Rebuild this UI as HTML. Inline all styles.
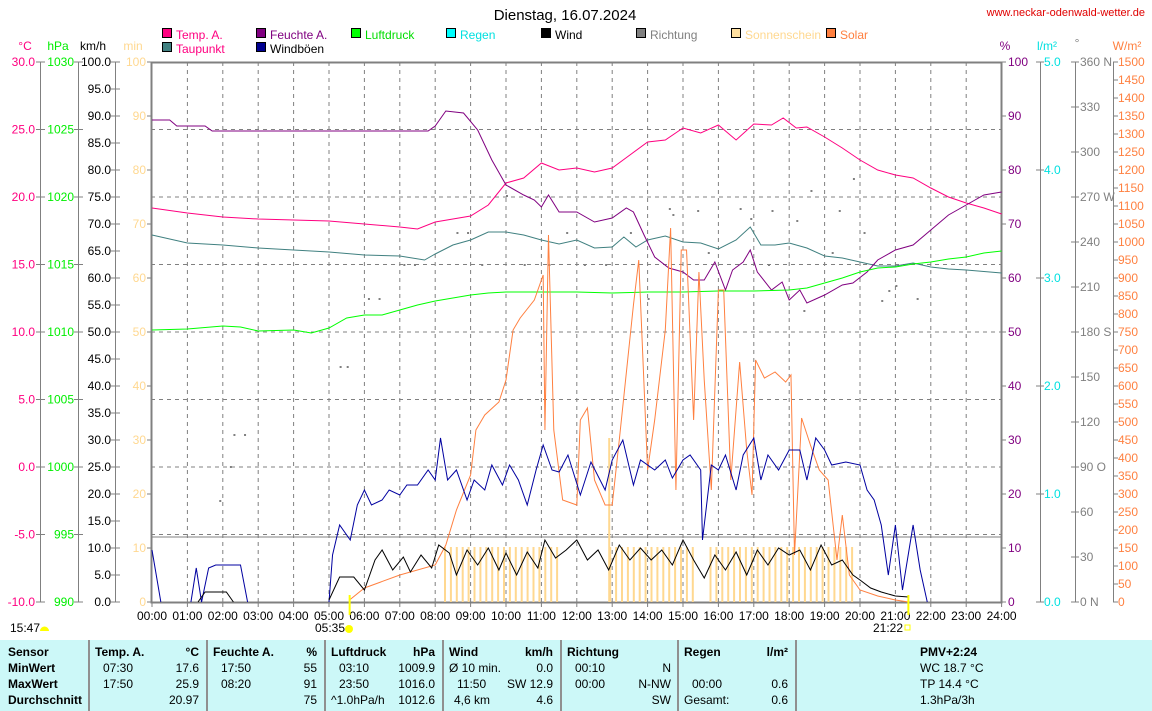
<!DOCTYPE html>
<html><head><meta charset="utf-8"><style>
html,body{margin:0;background:#fff;width:1152px;height:711px;overflow:hidden;font-family:"Liberation Sans",sans-serif}
svg text{font-family:"Liberation Sans",sans-serif;font-size:12px}
#tbl{position:absolute;left:0;top:640px;width:1152px;height:71px;background:#ccf8f8;font-size:12px;overflow:hidden}
#tbl div{position:absolute;white-space:nowrap}
.b{font-weight:bold}
.r{text-align:right}
.sep{position:absolute;top:0;width:2px;height:71px;background:#909090}
</style></head><body>
<svg id="s" width="1152" height="640" style="position:absolute;left:0;top:0"></svg>
<div id="tbl"></div>
<script>
const S=document.getElementById('s');let h='';
const X=t=>152+35.4*t;
function pl(pts,c,w){h+=`<polyline fill="none" stroke="${c}" stroke-width="${w||1}" points="${pts.map(p=>X(p[0])+','+p[1]).join(' ')}"/>`}
function tx(x,y,s,c,a){h+=`<text x="${x}" y="${y}" fill="${c}" text-anchor="${a||'start'}">${s}</text>`}
h+=`<text x="565" y="20" text-anchor="middle" style="font-size:15px">Dienstag, 16.07.2024</text>`;
h+=`<text x="1145" y="16" text-anchor="end" fill="#e00000" style="font-size:11px">www.neckar-odenwald-wetter.de</text>`;
const lg=[[162,38,'#ff0080','Temp. A.','#ff0080'],[162,52,'#408080','Taupunkt','#ff0080'],[256,38,'#800080','Feuchte A.','#800080'],[256,52,'#000090','Windböen','#000'],[351,38,'#00ff00','Luftdruck','#00dd00'],[446,38,'#00ffff','Regen','#00e0e0'],[541,38,'#000','Wind','#000'],[636,38,'#808080','Richtung','#808080'],[731,38,'#ffe0a0','Sonnenschein','#ffd890'],[826,38,'#ff8040','Solar','#ff8040']];
lg.forEach(l=>{h+=`<rect x="${l[0]+0.5}" y="${l[1]-9.5}" width="9" height="9" fill="${l[2]}" stroke="#000"/>`;tx(l[0]+14,l[1]+1,l[3],l[4])});
for(let i=1;i<24;i++){const x=X(i);h+=`<line x1="${x}" y1="62" x2="${x}" y2="602" stroke="#808080" stroke-dasharray="4,4"/>`}
for(let i=1;i<8;i++){const y=62+67.5*i;h+=`<line x1="151" y1="${y}" x2="1001" y2="${y}" stroke="#808080" stroke-dasharray="4,4"/>`}
h+=`<line x1="151" y1="537" x2="1001" y2="537" stroke="#808080"/>`;
h+=`<rect x="151.5" y="62.5" width="850" height="540" fill="none" stroke="#808080" stroke-width="2"/>`;
tx(25,50,'°C','#ff0080','middle');tx(58,50,'hPa','#00ee00','middle');tx(93,50,'km/h','#000','middle');tx(133,50,'min','#ffd890','middle');
h+=`<line x1="40.5" y1="62" x2="40.5" y2="602" stroke="#808080"/><line x1="78.5" y1="62" x2="78.5" y2="602" stroke="#808080"/><line x1="115.5" y1="62" x2="115.5" y2="602" stroke="#808080"/>`;
for(let i=0;i<=8;i++){const y=62+67.5*i;tx(35,y+4,(30-5*i).toFixed(1),'#ff0080','end');h+=`<line x1="36" y1="${y}" x2="45" y2="${y}" stroke="#808080"/>`;tx(74,y+4,1030-5*i,'#00ee00','end');h+=`<line x1="74" y1="${y}" x2="83" y2="${y}" stroke="#808080"/>`}
for(let i=0;i<=20;i++){const y=62+27*i;tx(111,y+4,(100-5*i).toFixed(1),'#000','end');h+=`<line x1="111" y1="${y}" x2="120" y2="${y}" stroke="#808080"/>`}
for(let i=0;i<=10;i++){const y=62+54*i;tx(146,y+4,100-10*i,'#ffd890','end');h+=`<line x1="147" y1="${y}" x2="151" y2="${y}" stroke="#808080"/>`}
tx(1005,50,'%','#800080','middle');tx(1047,50,'l/m²','#00e0e0','middle');tx(1077,47,'°','#808080','middle');tx(1127,50,'W/m²','#ff8040','middle');
h+=`<line x1="1040.5" y1="62" x2="1040.5" y2="602" stroke="#808080"/><line x1="1075.5" y1="62" x2="1075.5" y2="602" stroke="#808080"/><line x1="1113.5" y1="62" x2="1113.5" y2="602" stroke="#808080"/>`;
for(let i=0;i<=10;i++){const y=62+54*i;tx(1008,y+4,100-10*i,'#800080');h+=`<line x1="1001" y1="${y}" x2="1006" y2="${y}" stroke="#808080"/>`}
for(let i=0;i<=5;i++){const y=62+108*i;tx(1044,y+4,(5-i).toFixed(1),'#00e0e0');h+=`<line x1="1036" y1="${y}" x2="1044" y2="${y}" stroke="#808080"/>`}
const dl={360:' N',270:' W',180:' S',90:' O',0:' N'};
for(let i=0;i<=12;i++){const v=360-30*i,y=62+45*i;tx(1080,y+4,v+(dl[v]||''),'#808080');h+=`<line x1="1071" y1="${y}" x2="1079" y2="${y}" stroke="#808080"/>`}
for(let i=0;i<=30;i++){const y=62+18*i;tx(1118,y+4,1500-50*i,'#ff8040');h+=`<line x1="1113" y1="${y}" x2="1118" y2="${y}" stroke="#808080"/>`}
for(let i=0;i<=24;i++){const x=X(i);h+=`<line x1="${x}" y1="602" x2="${x}" y2="607" stroke="#808080"/>`;tx(x,620,(i<10?'0':'')+i+':00','#000','middle')}
const sun=[];for(let m=8*60+20;m<=11*60+30;m+=10)sun.push(m);for(let m=13*60;m<=19*60+50;m+=10)if(m!=15*60+30&&m!=15*60+40)sun.push(m);
sun.forEach(m=>{h+=`<rect x="${X(m/60)-3}" y="547" width="2" height="55" fill="#ffd890"/>`});
h+=`<rect x="${X(13)-4}" y="438" width="2" height="164" fill="#ffd890"/>`;
const dots=[[2.3,434],[2.6,434],[1.9,500],[2.2,466],[5.3,366],[5.5,366],[6.1,298],[6.4,298],[7.1,264],[7.4,264],[8.6,232],[8.9,232],[9.3,264],[10,195],[10.5,264],[11.2,264],[11.7,232],[12.2,264],[12.8,264],[13.5,232],[14,298],[14.6,208],[14.7,214],[15.4,210],[15.7,252],[16.6,208],[16.9,218],[17.4,264],[17.5,210],[18.2,220],[18.6,190],[18.4,310],[19.2,252],[19.4,210],[19.8,178],[20.1,232],[20.6,300],[21.6,298],[21,285],[20.8,290]];
dots.forEach(d=>{h+=`<rect x="${X(d[0])}" y="${d[1]}" width="2" height="2" fill="#808080"/>`});
pl([[0,208],[1,213],[2,217],[3,219],[5,221],[7,227],[7.5,229],[8,222],[9,216],[9.5,205],[10,183],[10.5,178],[11,163],[11.5,170],[12,168],[12.5,172],[13,168],[13.5,155],[14,142],[14.5,140],[15,128],[15.5,133],[16,125],[16.5,140],[17,124],[17.5,125],[17.83,118],[18.2,128],[18.5,127],[19,137],[19.5,148],[20,160],[20.5,170],[21,175],[21.5,178],[22,188],[22.5,197],[23,203],[23.5,208],[24,214]],'#ff0080');
pl([[0,235],[1,243],[2,245],[3,248],[5,252],[6,255],[7,256],[7.7,260],[8,254],[8.5,245],[9,240],[9.5,232],[10,232],[10.5,235],[11,240],[11.5,244],[12,240],[12.5,248],[13,247],[13.33,237],[13.67,247],[14,240],[14.5,236],[15,242],[15.5,243],[16,249],[16.5,240],[16.9,227],[17.2,245],[17.6,245],[18,243],[18.5,248],[19,256],[19.5,258],[20,262],[20.5,266],[21,266],[21.5,263],[22,267],[22.5,269],[23,270],[24,273]],'#408080');
pl([[0,120],[0.5,120],[0.7,126],[1.5,126],[1.7,131],[7.8,131],[8,126],[8.3,111],[8.8,113],[9.2,130],[9.6,160],[10,185],[10.5,195],[10.8,200],[11,207],[11.2,195],[11.5,212],[12,212],[12.5,222],[13,218],[13.4,208],[13.6,212],[13.9,235],[14.2,257],[14.6,268],[15,272],[15.3,280],[15.6,280],[15.9,262],[16.2,290],[16.4,270],[16.7,262],[16.9,250],[17.1,272],[17.5,290],[17.8,282],[18,300],[18.3,290],[18.5,303],[19,295],[19.5,285],[19.8,283],[20.2,272],[20.5,260],[21,250],[21.5,245],[22,230],[22.5,215],[23,205],[23.5,195],[24,192]],'#800080');
pl([[0,330],[1,329],[2,326],[2.5,327],[3,331],[4,330],[4.5,333],[5,328],[5.5,318],[6,315],[6.5,315],[7,310],[7.5,305],[8,301],[8.5,298],[9,295],[9.5,293],[10,292],[11,292],[12,292],[13,293],[14,292],[15,292],[16,291],[17,291],[18,290],[18.5,288],[19,283],[19.5,278],[20,272],[20.5,268],[21,267],[21.5,264],[22,262],[22.5,259],[23,257],[23.5,253],[24,251]],'#00ff00');
pl([[5.58,600],[6,588],[7,575],[8,565],[8.3,545],[8.6,510],[9,475],[9.15,430],[9.4,415],[9.8,402],[10,380],[10.2,330],[10.4,318],[10.8,300],[11.05,275],[11.1,430],[11.2,235],[11.35,430],[11.6,500],[12,505],[12.1,420],[12.3,408],[12.5,480],[12.8,505],[13,505],[13.2,440],[13.6,305],[13.75,260],[14,470],[14.2,420],[14.5,330],[14.65,228],[14.8,490],[14.95,250],[15.1,250],[15.3,420],[15.45,272],[15.6,380],[15.8,490],[16,290],[16.15,290],[16.35,480],[16.6,362],[16.8,450],[16.95,495],[17.05,360],[17.3,378],[17.6,372],[17.9,382],[18.05,375],[18.15,555],[18.35,418],[18.6,445],[18.85,470],[19.1,480],[19.35,560],[19.5,515],[19.7,575],[20,590],[20.5,596],[21,600],[21.37,602]],'#ff8040');
pl([[0,550],[0.25,602]],'#0000a0');
pl([[1.1,602],[1.25,568],[1.4,602],[1.6,568],[1.8,565],[2.5,565],[2.7,602]],'#0000a0');
pl([[5,602],[5.1,555],[5.3,525],[5.6,540],[5.8,505],[6,490],[6.2,505],[6.5,500],[6.7,490],[7,495],[7.2,485],[7.5,485],[7.8,470],[8,480],[8.15,438],[8.35,480],[8.6,470],[8.9,500],[9.1,480],[9.4,490],[9.6,465],[9.9,485],[10.1,465],[10.35,480],[10.6,505],[10.85,470],[11.05,445],[11.3,470],[11.5,472],[11.75,455],[12.1,495],[12.4,462],[12.8,490],[13,460],[13.3,440],[13.6,485],[13.8,460],[14.2,470],[14.5,460],[14.7,478],[15,460],[15.2,455],[15.5,470],[15.55,540],[15.8,465],[16,470],[16.2,455],[16.5,490],[16.7,455],[17,438],[17.2,480],[17.4,455],[17.7,470],[18,450],[18.3,450],[18.5,480],[18.75,438],[19,450],[19.2,465],[19.6,462],[20,465],[20.2,490],[20.4,500],[20.6,525],[20.8,575],[21,525],[21.2,590],[21.5,525],[21.7,570],[21.9,602]],'#0000a0');
pl([[1.3,602],[1.5,592],[2.1,592],[2.3,602]],'#000');
pl([[5,600],[5.3,577],[5.7,577],[6,590],[6.3,560],[6.5,550],[6.8,570],[7.1,557],[7.3,572],[7.6,555],[7.9,568],[8.1,545],[8.4,553],[8.6,575],[8.9,550],[9.2,565],[9.5,548],[9.8,570],[10,553],[10.3,575],[10.6,552],[10.9,568],[11.1,540],[11.4,558],[11.7,550],[12,540],[12.3,560],[12.6,550],[12.9,570],[13.2,545],[13.5,560],[13.8,548],[14.1,560],[14.4,550],[14.7,565],[15,540],[15.3,560],[15.6,578],[15.9,555],[16.2,570],[16.5,552],[16.8,575],[17.1,550],[17.4,565],[17.7,548],[18,555],[18.3,550],[18.6,570],[18.9,545],[19.2,565],[19.5,560],[19.8,575],[20,580],[20.3,588],[20.6,592],[21,596],[21.37,597]],'#000');
h+=`<line x1="${X(5+35/60)}" y1="595" x2="${X(5+35/60)}" y2="615" stroke="#ffff00" stroke-width="2"/><line x1="${X(21+22/60)}" y1="595" x2="${X(21+22/60)}" y2="615" stroke="#ffff00" stroke-width="2"/>`;
tx(330,632,'05:35','#000','middle');h+=`<circle cx="349" cy="629" r="4" fill="#ffff00"/>`;
tx(888,632,'21:22','#000','middle');h+=`<rect x="905" y="625" width="5" height="5" fill="none" stroke="#ffff00"/>`;
tx(10,632,'15:47','#000');h+=`<path d="M40,631 a4,4 0 0 1 9,0 z" fill="#ffff00"/>`;
S.innerHTML=h;
let t='';const rows=[5,21,37,53];
function c(x,y,s,cl){t+=`<div class="${cl||''}" style="left:${x}px;top:${y}px">${s}</div>`}
[88,206,324,442,560,677,795].forEach(x=>t+=`<div class="sep" style="left:${x}px"></div>`);
c(8,rows[0],'Sensor','b');c(8,rows[1],'MinWert','b');c(8,rows[2],'MaxWert','b');c(8,rows[3],'Durchschnitt','b');
const cols=[[95,'Temp. A.','°C',['07:30','17:50',''],['17.6','25.9','20.97']],[213,'Feuchte A.','%',['17:50','08:20',''],['55','91','75']],[331,'Luftdruck','hPa',['03:10','23:50','^1.0hPa/h'],['1009.9','1016.0','1012.6']],[449,'Wind','km/h',['Ø 10 min.','11:50','4,6 km'],['0.0','SW 12.9','4.6']],[567,'Richtung','',['00:10','00:00',''],['N','N-NW','SW']],[684,'Regen','l/m²',['','00:00','Gesamt:'],['','0.6','0.6']]];
cols.forEach(k=>{const x=k[0];c(x,rows[0],k[1],'b');t+=`<div class="b r" style="left:${x}px;top:${rows[0]}px;width:104px">${k[2]}</div>`;
for(let i=0;i<3;i++){const l=k[3][i];const ind=(l.startsWith('Ø')||l.startsWith('^')||l.startsWith('Ges'))?0:(l.startsWith('4,6')?5:8);c(x+ind,rows[i+1],l);t+=`<div class="r" style="left:${x}px;top:${rows[i+1]}px;width:104px">${k[4][i]}</div>`}});
[['PMV+2:24','b'],['WC 18.7 °C',''],['TP 14.4 °C',''],['1.3hPa/3h','']].forEach((p,i)=>c(920,rows[i],p[0],p[1]));
document.getElementById('tbl').innerHTML=t;
</script>
</body></html>
